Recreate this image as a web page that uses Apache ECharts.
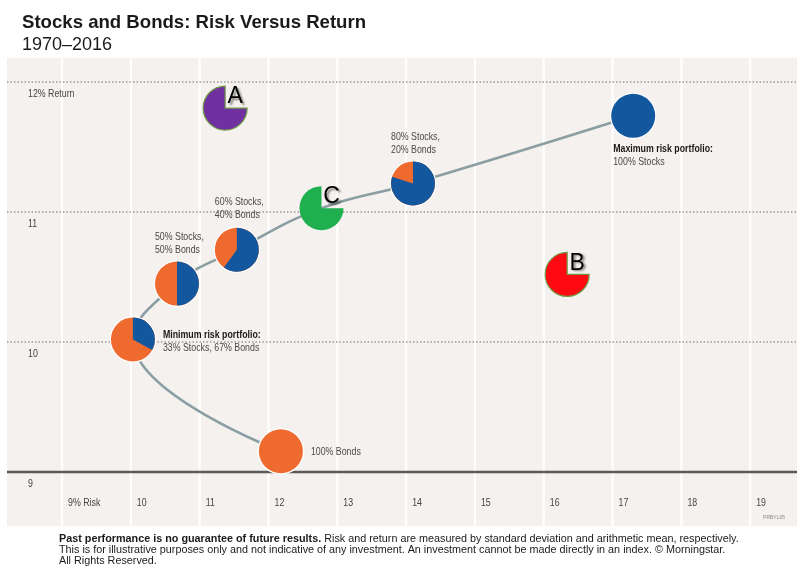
<!DOCTYPE html>
<html>
<head>
<meta charset="utf-8">
<title>Stocks and Bonds: Risk Versus Return</title>
<script src="https://cdn.jsdelivr.net/npm/echarts@6/dist/echarts.min.js"></script>
<style>
    html, body { margin: 0; padding: 0; background: #fff; }
    #chart { width: 800px; height: 574px; }
</style>
</head>
<body>
<div id="chart"></div>
<script>
// axis ticks
var riskTicks = [9, 10, 11, 12, 13, 14, 15, 16, 17, 18, 19];
var riskTickLabels = ['9% Risk', '10', '11', '12', '13', '14', '15', '16', '17', '18', '19'];
var returnTicks = [9, 10, 11, 12];
var returnTickLabels = ['9', '10', '11', '12% Return'];

// portfolios on the frontier, stock share in %
var stockShare = [0, 33, 50, 60, 80, 100];
var portfolioRisk = [12.18, 10.03, 10.67, 11.54, 14.10, 17.30];
var portfolioReturn = [9.16, 10.02, 10.45, 10.71, 11.22, 11.74];
var portfolioLabels = [
    '100% Bonds',
    '{b|Minimum risk portfolio:}\n33% Stocks, 67% Bonds',
    '50% Stocks,\n50% Bonds',
    '60% Stocks,\n40% Bonds',
    '80% Stocks,\n20% Bonds',
    '{b|Maximum risk portfolio:}\n100% Stocks'
];

// the frontier curve
var frontierRisk = [12.18, 10.03, 10.67, 11.54, 12.77, 14.10, 17.30];
var frontierReturn = [9.16, 10.02, 10.45, 10.71, 11.03, 11.22, 11.74];

// lettered example points
var letters = ['A', 'B', 'C'];
var letterRisk = [11.37, 16.34, 12.77];
var letterReturn = [11.80, 10.52, 11.03];

var footnote = '{b|Past performance is no guarantee of future results.} Risk and return are measured by standard deviation and arithmetic mean, respectively.\n' +
    'This is for illustrative purposes only and not indicative of any investment. An investment cannot be made directly in an index. \u00a9 Morningstar.\n' +
    'All Rights Reserved.';

// styling
var ORANGE = '#EF6A2E';
var BLUE = '#13579F';
var letterColors = ['#7030A0', '#FF0A12', '#1FAF4F'];
var letterStroke = ['#6E9A45', '#6E9A45', 'transparent'];
var PIE_R = 22;
var ARIAL = '"Liberation Sans", Arial, sans-serif';
var NARROW_X = 0.8; // squeeze to look like the condensed face of the original

// label placement for each portfolio: offset from pie centre
var labelPlace = [
    { dx: 30, dy: 1, va: 'middle' },
    { dx: 30, dy: -11, va: 'top' },
    { dx: -22, dy: -27, va: 'bottom' },
    { dx: -22, dy: -28, va: 'bottom' },
    { dx: -22, dy: -27, va: 'bottom' },
    { dx: -20, dy: 27, va: 'top' }
];

function renderRiskTick(params, api) {
    var cs = params.coordSys;
    var p = api.coord([api.value(0), 9]);
    return {
        type: 'group',
        children: [{
            type: 'line',
            shape: { x1: p[0], y1: cs.y, x2: p[0], y2: cs.y + cs.height },
            style: { stroke: '#ffffff', lineWidth: 2.2 }
        }, {
            type: 'text',
            x: p[0] + 6, y: p[1] + 30.5, scaleX: NARROW_X,
            style: {
                text: riskTickLabels[params.dataIndex],
                fontFamily: ARIAL, fontSize: 11, fill: '#444',
                align: 'left', verticalAlign: 'middle'
            }
        }]
    };
}

function renderReturnTick(params, api) {
    var cs = params.coordSys;
    var v = api.value(0);
    var p = api.coord([0, v]);
    var solid = v === returnTicks[0];
    return {
        type: 'group',
        children: [{
            type: 'line',
            shape: { x1: cs.x, y1: p[1], x2: cs.x + cs.width, y2: p[1] },
            style: solid ? { stroke: '#5a5a5a', lineWidth: 2.5 }
                         : { stroke: '#9c9c9c', lineWidth: 1.5, lineDash: [1.5, 2] }
        }, {
            type: 'text',
            x: cs.x + 21, y: p[1] + 11.5, scaleX: NARROW_X,
            style: {
                text: returnTickLabels[params.dataIndex],
                fontFamily: ARIAL, fontSize: 11, fill: '#444',
                align: 'left', verticalAlign: 'middle'
            }
        }]
    };
}

function renderPortfolio(params, api) {
    var i = params.dataIndex;
    var c = api.coord([api.value(0), api.value(1)]);
    var share = api.value(2) / 100;
    var place = labelPlace[i];
    var children = [
        { type: 'circle', shape: { cx: c[0], cy: c[1], r: PIE_R + 1.2 }, style: { fill: '#ffffff' } },
        { type: 'circle', shape: { cx: c[0], cy: c[1], r: PIE_R }, style: { fill: share >= 1 ? BLUE : ORANGE } }
    ];
    if (share > 0 && share < 1) {
        children.push({
            type: 'sector',
            shape: {
                cx: c[0], cy: c[1], r0: 0, r: PIE_R,
                startAngle: -Math.PI / 2, endAngle: -Math.PI / 2 + share * Math.PI * 2, clockwise: true
            },
            style: { fill: BLUE }
        });
    }
    children.push({
        type: 'text',
        x: c[0] + place.dx, y: c[1] + place.dy, scaleX: NARROW_X,
        style: {
            text: portfolioLabels[i],
            fontFamily: ARIAL, fontSize: 11, lineHeight: 13, fill: '#4a4a4a',
            align: 'left', verticalAlign: place.va,
            rich: {
                b: { fontFamily: ARIAL, fontSize: 11, fontWeight: 'bold', fill: '#1a1a1a', lineHeight: 13 }
            }
        }
    });
    return { type: 'group', children: children };
}

function renderLetter(params, api) {
    var i = params.dataIndex;
    var c = api.coord([api.value(0), api.value(1)]);
    return {
        type: 'group',
        children: [{
            type: 'sector',
            shape: { cx: c[0], cy: c[1], r0: 0, r: PIE_R, startAngle: 0, endAngle: Math.PI * 1.5, clockwise: true },
            style: { fill: letterColors[i], stroke: letterStroke[i], lineWidth: 1.2 }
        }, {
            type: 'text',
            x: c[0] + 10, y: c[1] - 11,
            style: {
                text: letters[i],
                fontFamily: ARIAL, fontSize: 23, fill: '#000',
                align: 'center', verticalAlign: 'middle',
                textShadowColor: 'rgba(0,0,0,0.45)', textShadowBlur: 2,
                textShadowOffsetX: 2, textShadowOffsetY: 1.5
            }
        }]
    };
}

var chart = echarts.init(document.getElementById('chart'));

var option = {
    animation: false,
    backgroundColor: '#ffffff',
    grid: {
        left: 7, top: 58, width: 790, height: 468,
        show: true, backgroundColor: '#F4F1EE', borderWidth: 0
    },
    xAxis: {
        type: 'value', min: 8.2, max: 19.68,
        axisLine: { show: false }, axisTick: { show: false },
        axisLabel: { show: false }, splitLine: { show: false }
    },
    yAxis: {
        type: 'value', min: 8.585, max: 12.185,
        axisLine: { show: false }, axisTick: { show: false },
        axisLabel: { show: false }, splitLine: { show: false }
    },
    graphic: [{
        type: 'text', x: 22, y: 22.5,
        style: {
            text: 'Stocks and Bonds: Risk Versus Return',
            fontFamily: ARIAL, fontSize: 18.6, fontWeight: 'bold', fill: '#1a1a1a',
            align: 'left', verticalAlign: 'middle'
        }
    }, {
        type: 'text', x: 22, y: 45,
        style: {
            text: '1970\u20132016',
            fontFamily: ARIAL, fontSize: 18, fill: '#1a1a1a',
            align: 'left', verticalAlign: 'middle'
        }
    }, {
        type: 'text', x: 59, y: 534,
        style: {
            text: footnote,
            fontFamily: ARIAL, fontSize: 10.8, lineHeight: 11, fill: '#1a1a1a',
            align: 'left', verticalAlign: 'top',
            rich: {
                b: { fontFamily: ARIAL, fontSize: 10.8, fontWeight: 'bold', lineHeight: 11, fill: '#1a1a1a' }
            }
        }
    }, {
        type: 'text', x: 785, y: 518,
        style: {
            text: 'PRBYL05', fontFamily: ARIAL, fontSize: 5, fill: '#888',
            align: 'right', verticalAlign: 'middle'
        }
    }],
    series: [{
        type: 'custom', name: 'risk ticks', z: 1,
        renderItem: renderRiskTick,
        data: riskTicks.map(function (v) { return [v]; })
    }, {
        type: 'custom', name: 'return ticks', z: 1,
        renderItem: renderReturnTick,
        encode: { x: -1, y: 0 },
        data: returnTicks.map(function (v) { return [v]; })
    }, {
        type: 'line', name: 'frontier', z: 2,
        smooth: 0.45, symbol: 'none', silent: true,
        lineStyle: { color: '#8A9EA3', width: 2.6 },
        data: frontierRisk.map(function (x, i) { return [x, frontierReturn[i]]; })
    }, {
        type: 'custom', name: 'portfolios', z: 3,
        renderItem: renderPortfolio,
        data: portfolioRisk.map(function (x, i) { return [x, portfolioReturn[i], stockShare[i]]; })
    }, {
        type: 'custom', name: 'examples', z: 3,
        renderItem: renderLetter,
        data: letterRisk.map(function (x, i) { return [x, letterReturn[i]]; })
    }]
};

chart.setOption(option);
</script>
</body>
</html>
